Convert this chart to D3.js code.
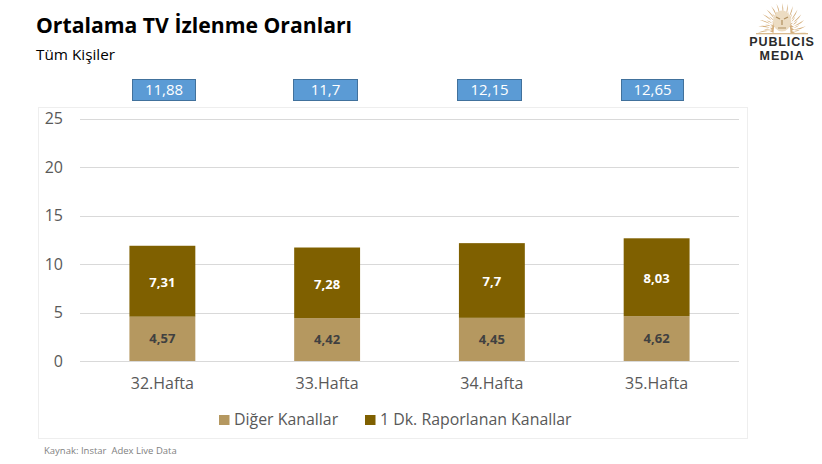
<!DOCTYPE html>
<html><head><meta charset="utf-8">
<script src="https://cdn.jsdelivr.net/npm/d3@7"></script>
<style>html,body{margin:0;padding:0;background:#fff}svg{display:block}text{font-family:"Open Sans","Noto Sans",sans-serif}</style>
</head><body><svg id="c" width="822" height="464"></svg>
<script>
const categories = ["32.Hafta","33.Hafta","34.Hafta","35.Hafta"];
const digerKanallar = [4.57,4.42,4.45,4.62];
const raporlanan = [7.31,7.28,7.70,8.03];
const totalLabels = ["11,88","11,7","12,15","12,65"];
const digerLabels = ["4,57","4,42","4,45","4,62"];
const raporLabels = ["7,31","7,28","7,7","8,03"];
const yTicks = [0,5,10,15,20,25];
const seriesNames = ["Diğer Kanallar","1 Dk. Raporlanan Kanallar"];
const colors = ["#b59860","#7f6000"];
const svg = d3.select("#c");
svg.append("rect").attr("width",822).attr("height",464).attr("fill","#fff");
const text=(x,y,s,o={})=>svg.append("text").attr("x",x).attr("y",y).text(s)
  .attr("font-size",o.size||14).attr("fill",o.fill||"#595959").attr("text-anchor",o.anchor||"start")
  .attr("font-weight",o.weight||400).style("font-family",o.family||null).style("letter-spacing",o.ls||null);
text(36,33,"Ortalama TV İzlenme Oranları",{size:21.2,weight:700,fill:"#000"});
text(36,60,"Tüm Kişiler",{size:15.3,fill:"#000"});
svg.append("rect").attr("x",38.5).attr("y",107.5).attr("width",709).attr("height",331).attr("fill","#fff").attr("stroke","#eeeeee");
const x=d3.scaleBand().domain(categories).range([80,739]).paddingInner(0.6).paddingOuter(0.3);
const y=d3.scaleLinear().domain([0,25]).range([361,118.5]);
const yAxis=svg.append("g").attr("transform","translate(80,0)").call(d3.axisLeft(y).tickValues(yTicks).tickSize(-659).tickPadding(17));
yAxis.select(".domain").remove();
yAxis.selectAll("line").attr("stroke","#d9d9d9").attr("shape-rendering","crispEdges");
yAxis.selectAll("text").attr("fill","#595959").attr("font-size",16).style("font-family",'"Open Sans"');
const xAxis=svg.append("g").attr("transform","translate(0,361)").call(d3.axisBottom(x).tickSize(0).tickPadding(17));
xAxis.select(".domain").remove();
xAxis.selectAll("text").attr("fill","#595959").attr("font-size",16).style("font-family",'"Open Sans"');
const boxLeft=[132.5,293.5,457.5,621.5], boxWidth=[63,64,64,62];
categories.forEach((c,i)=>{
  const a=digerKanallar[i],b=raporlanan[i],bx=x(c),w=x.bandwidth();
  svg.append("rect").attr("x",bx).attr("width",w).attr("y",y(a)).attr("height",y(0)-y(a)).attr("fill",colors[0]);
  svg.append("rect").attr("x",bx).attr("width",w).attr("y",y(a+b)).attr("height",y(a)-y(a+b)).attr("fill",colors[1]);
  text(bx+w/2,y(a/2)+4.5,digerLabels[i],{size:13,weight:700,fill:"#404040",anchor:"middle"});
  text(bx+w/2,y(a+b/2)+6,raporLabels[i],{size:13,weight:700,fill:"#fff",anchor:"middle"});
  svg.append("rect").attr("x",boxLeft[i]).attr("y",79.5).attr("width",boxWidth[i]).attr("height",21).attr("fill","#5b9bd5").attr("stroke","#41719c");
  text(boxLeft[i]+boxWidth[i]/2,95,totalLabels[i],{size:15,fill:"#fff",anchor:"middle"});
});
seriesNames.forEach((n,i)=>{
  const sx=[219,365][i], tx=[234,380][i];
  svg.append("rect").attr("x",sx).attr("y",415).attr("width",10.5).attr("height",10).attr("fill",colors[i]);
  text(tx,425,n,{size:15.9});
});
text(44,454,"Kaynak: Instar  Adex Live Data",{size:9.5,fill:"#7f7f7f"}).style("white-space","pre");
// logo
const logo=svg.append("g");
const lc=[782,31], sx=0.86;
d3.range(0,29).forEach(k=>{
  const t=Math.PI*(0.98+ 1.04*k/28), r0=10, r1=k%2?21:28;
  const p=d3.path();
  const P=(r,a)=>[lc[0]+r*sx*Math.cos(a),lc[1]+r*Math.sin(a)];
  p.moveTo(...P(r0,t-.13));
  p.quadraticCurveTo(...P((r0+r1)/2,t+.2),...P(r1,t));
  p.quadraticCurveTo(...P((r0+r1)/2,t+.04),...P(r0,t+.13));
  logo.append("path").attr("d",p.toString()).attr("fill","#d4ae7c");
});
logo.append("ellipse").attr("cx",782).attr("cy",21).attr("rx",9).attr("ry",10.5).attr("fill","#ecdcc2");
logo.append("path").attr("d","M776 17 L780 19 M788 17 L784 19 M782 20 L782 25 M778 28 L786 28").attr("stroke","#b08f5e").attr("stroke-width",1.2).attr("fill","none");
logo.append("rect").attr("x",756).attr("y",33).attr("width",52).attr("height",1.3).attr("fill","#d9b98c");
text(782,46,"PUBLICIS",{size:12.5,weight:700,fill:"#2b2b2b",anchor:"middle",family:'"Liberation Sans"',ls:"0.9px"});
text(782,60,"MEDIA",{size:12.5,weight:700,fill:"#2b2b2b",anchor:"middle",family:'"Liberation Sans"',ls:"0.9px"});
</script></body></html>
